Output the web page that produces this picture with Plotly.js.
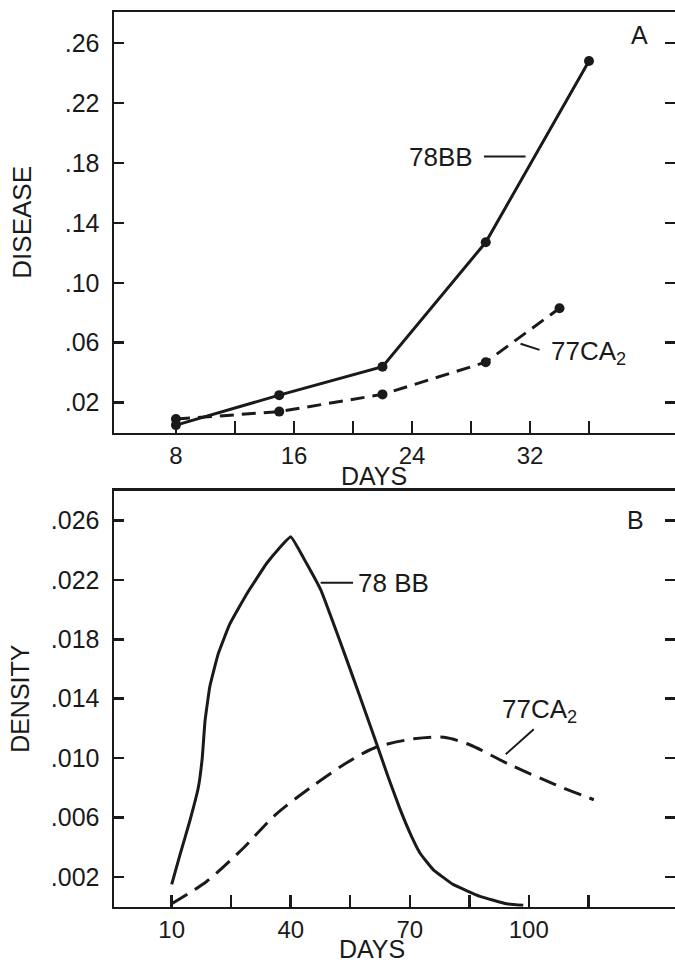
<!DOCTYPE html>
<html>
<head>
<meta charset="utf-8">
<script src="https://cdn.plot.ly/plotly-3.0.1.min.js"></script>
<style>html,body{margin:0;padding:0;background:#fff;}#chart{width:675px;height:962px;}</style>
</head>
<body>
<div id="chart"></div>
<script>
// Panel A: disease vs days
const daysA_78BB = [8, 15, 22, 29, 36];
const diseaseA_78BB = [0.005, 0.025, 0.044, 0.127, 0.248];
const daysA_77CA2 = [8, 15, 22, 29, 34];
const diseaseA_77CA2 = [0.009, 0.014, 0.0255, 0.047, 0.083];
const tickValsA = [8, 16, 24, 32];
const tickTextA = ['8', '16', '24', '32'];
const minorTickValsA = [12, 20, 28, 36];
const yTickValsA = [0.02, 0.06, 0.10, 0.14, 0.18, 0.22, 0.26];
const yTickTextA = ['.02', '.06', '.10', '.14', '.18', '.22', '.26'];

// Panel B: density vs days
const daysB_78BB = [10, 12.1, 14.6, 16.7, 17.7, 18.4, 19.6, 21.7, 24.6, 28.8, 33.9, 37, 40, 44, 47.6, 53.6, 57.5, 61.6, 64.6, 67.5, 70.5, 72.6, 75.9, 80.9, 87.7, 94.4, 98.6];
const densityB_78BB = [0.0015, 0.0035, 0.0058, 0.0080, 0.0100, 0.0125, 0.0148, 0.0170, 0.0190, 0.0210, 0.0231, 0.0241, 0.0249, 0.0231, 0.0213, 0.0170, 0.0141, 0.0110, 0.0087, 0.0066, 0.0047, 0.0036, 0.0025, 0.0015, 0.0007, 0.0002, 0.0001];
const daysB_77CA2 = [10, 18.8, 27.5, 36.2, 44.9, 53.6, 61.2, 71, 78.6, 85.1, 94.9, 106.8, 116.4];
const densityB_77CA2 = [0.0002, 0.0017, 0.0038, 0.0062, 0.0080, 0.0096, 0.0107, 0.0113, 0.0114, 0.0109, 0.0096, 0.0082, 0.0072];
const tickValsB = [10, 40, 70, 100];
const tickTextB = ['10', '40', '70', '100'];
const minorTickValsB = [25, 55, 85, 115];
const yTickValsB = [0.002, 0.006, 0.010, 0.014, 0.018, 0.022, 0.026];
const yTickTextB = ['.002', '.006', '.010', '.014', '.018', '.022', '.026'];

const FONT = 'Liberation Sans, Arial, sans-serif';
const INK = '#1a1a1a';

const traces = [
  {x: daysA_78BB, y: diseaseA_78BB, xaxis: 'x', yaxis: 'y', mode: 'lines+markers', name: '78BB',
   line: {color: INK, width: 3}, marker: {color: INK, size: 10}, cliponaxis: false},
  {x: daysA_77CA2, y: diseaseA_77CA2, xaxis: 'x', yaxis: 'y', mode: 'lines+markers', name: '77CA2',
   line: {color: INK, width: 3, dash: '14px,8px'}, marker: {color: INK, size: 10}, cliponaxis: false},
  {x: daysB_78BB, y: densityB_78BB, xaxis: 'x2', yaxis: 'y2', mode: 'lines', name: '78 BB',
   line: {color: INK, width: 3, shape: 'spline', smoothing: 0.3}},
  {x: daysB_77CA2, y: densityB_77CA2, xaxis: 'x2', yaxis: 'y2', mode: 'lines', name: '77CA2',
   line: {color: INK, width: 3, dash: '18px,9px', shape: 'spline', smoothing: 0.8}}
];

const axisCommon = {
  showline: true, linecolor: INK, linewidth: 2.5, showgrid: false, zeroline: false,
  tickfont: {family: FONT, size: 25, color: INK}, tickcolor: INK, tickwidth: 2.5,
  ticks: 'inside', tickmode: 'array', fixedrange: true
};

function minorTicks(vals) {
  return {tickmode: 'array', tickvals: vals, ticks: 'inside', ticklen: 12, tickwidth: 2.5, tickcolor: INK, showgrid: false};
}

const layout = {
  width: 675, height: 962,
  margin: {l: 0, r: 0, t: 0, b: 0},
  paper_bgcolor: '#fff', plot_bgcolor: '#fff',
  showlegend: false,
  font: {family: FONT, color: INK},
  xaxis: Object.assign({}, axisCommon, {domain: [114/675, 1], range: [3.80, 41.83],
    tickvals: tickValsA, ticktext: tickTextA, ticklen: 12, mirror: true, anchor: 'y',
    tickfont: {family: FONT, size: 24, color: INK},
    minor: minorTicks(minorTickValsA)}),
  yaxis: Object.assign({}, axisCommon, {domain: [1 - 432.6/962, 1 - 12/962], range: [0, 0.2807],
    tickvals: yTickValsA, ticktext: yTickTextA, ticklen: 10, mirror: 'ticks', anchor: 'x',
    ticklabelstandoff: 7,
    title: {text: 'DISEASE', font: {family: FONT, size: 26, color: INK}, standoff: 26}}),
  xaxis2: Object.assign({}, axisCommon, {domain: [114/675, 1], range: [-4.54, 136.85],
    tickvals: tickValsB, ticktext: tickTextB, ticklen: 12, mirror: true, anchor: 'y2',
    tickfont: {family: FONT, size: 24, color: INK},
    minor: minorTicks(minorTickValsB)}),
  yaxis2: Object.assign({}, axisCommon, {domain: [1 - 906.7/962, 1 - 490.7/962], range: [0, 0.028],
    tickvals: yTickValsB, ticktext: yTickTextB, ticklen: 10, mirror: 'ticks', anchor: 'x2',
    ticklabelstandoff: 7,
    title: {text: 'DENSITY', font: {family: FONT, size: 25, color: INK}, standoff: 14}}),
  annotations: [
    {text: 'DAYS', xref: 'paper', yref: 'paper', x: 374/675, y: 1 - 476/962, showarrow: false,
     xanchor: 'center', yanchor: 'middle', font: {family: FONT, size: 25, color: INK}},
    {text: 'DAYS', xref: 'paper', yref: 'paper', x: 372/675, y: 1 - 949/962, showarrow: false,
     xanchor: 'center', yanchor: 'middle', font: {family: FONT, size: 25, color: INK}},
    {text: 'A', xref: 'x', yref: 'y', x: 39.44, y: 0.2652, showarrow: false,
     font: {family: FONT, size: 25, color: INK}},
    {text: '78BB', xref: 'x', yref: 'y', x: 26.0, y: 0.1836, showarrow: false,
     font: {family: FONT, size: 26, color: INK}},
    {text: '77CA<sub>2</sub>', xref: 'x', yref: 'y', x: 35.95, y: 0.0532, showarrow: false,
     font: {family: FONT, size: 26, color: INK}},
    {text: 'B', xref: 'x2', yref: 'y2', x: 127, y: 0.02605, showarrow: false,
     font: {family: FONT, size: 25, color: INK}},
    {text: '78 BB', xref: 'x2', yref: 'y2', x: 65.9, y: 0.0218, showarrow: false,
     font: {family: FONT, size: 26, color: INK}},
    {text: '77CA<sub>2</sub>', xref: 'x2', yref: 'y2', x: 102.6, y: 0.0132, showarrow: false,
     font: {family: FONT, size: 26, color: INK}}
  ],
  shapes: [
    {type: 'line', xref: 'x', yref: 'y', x0: 28.88, x1: 31.7, y0: 0.1843, y1: 0.1843, line: {color: INK, width: 2}},
    {type: 'line', xref: 'x', yref: 'y', x0: 31.36, x1: 32.65, y0: 0.0593, y1: 0.0552, line: {color: INK, width: 2}},
    {type: 'line', xref: 'x2', yref: 'y2', x0: 47.55, x1: 55.7, y0: 0.0218, y1: 0.0218, line: {color: INK, width: 2}},
    {type: 'line', xref: 'x2', yref: 'y2', x0: 101.25, x1: 94.2, y0: 0.01195, y1: 0.01026, line: {color: INK, width: 2}}
  ]
};

Plotly.newPlot('chart', traces, layout, {displayModeBar: false, staticPlot: true});
</script>
</body>
</html>
